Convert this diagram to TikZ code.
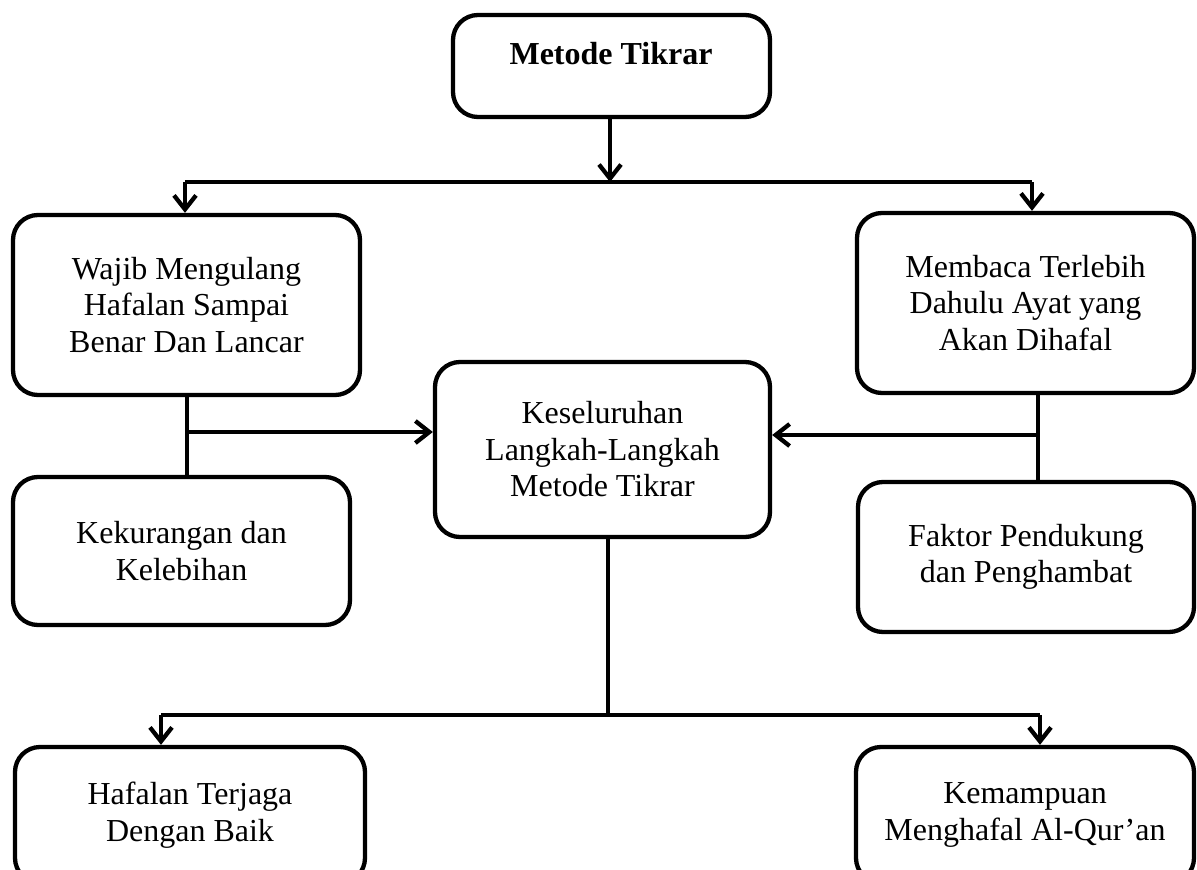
\documentclass[tikz,border=0pt]{standalone}
\usepackage{fontspec}
\setmainfont{Liberation Serif}
\usetikzlibrary{arrows.meta}
\tikzset{
  box/.style={draw=black, line width=4.3pt, rounded corners=25pt, fill=white, align=center,
    font=\fontsize{32}{36.5}\selectfont, inner sep=0pt},
  conn/.style={draw=black, line width=4.3pt},
  arr/.style={conn, -{Straight Barb[length=14pt,width=22pt]}},
}
\begin{document}
\begin{tikzpicture}[x=1pt,y=-1pt]
\clip (0,0) rectangle (1197,870);
\fill[white] (0,0) rectangle (1197,870);
% boxes
\node[box, minimum width=317pt, minimum height=102pt] (top) at (611.5,66) {};
\node[font=\fontsize{32}{36}\selectfont\bfseries] (toptext) at (611,54) {Metode Tikrar};
\node[box, minimum width=347pt, minimum height=180pt] (L1) at (186.5,305) {Wajib Mengulang\\Hafalan Sampai\\Benar Dan Lancar};
\node[box, minimum width=337pt, minimum height=180pt] (R1) at (1025.5,303) {Membaca Terlebih\\Dahulu Ayat yang\\Akan Dihafal};
\node[box, minimum width=335pt, minimum height=175pt] (C) at (602.5,449.5) {Keseluruhan\\Langkah-Langkah\\Metode Tikrar};
\node[box, minimum width=337pt, minimum height=148pt] (L2) at (181.5,551) {Kekurangan dan\\Kelebihan};
\node[box, minimum width=336pt, minimum height=150pt] (R2) at (1026,557) {Faktor Pendukung\\dan Penghambat};
\node[box, minimum width=350pt, minimum height=136pt] (B1) at (190,815) {Hafalan Terjaga\\Dengan Baik};
\node[box, minimum width=338pt, minimum height=136pt] (B2) at (1025,815) {Kemampuan\\Menghafal Al-Qur’an};
% junctions
\coordinate (tj) at (610,182);
\coordinate (tl) at (185,182);
\coordinate (tr) at (1032,182);
\coordinate (lj) at (187,432);
\coordinate (rj) at (1038,435);
\coordinate (bj) at (608,715);
\coordinate (bl) at (161,715);
\coordinate (br) at (1040,715);
% connectors
\draw[arr] (top.south -| tj) -- (tj);
\draw[conn] (tl) -- (tr);
\draw[arr] (tl) -- (tl |- L1.north);
\draw[arr] (tr) -- (tr |- R1.north);
\draw[conn] (L1.south -| lj) -- (L2.north -| lj);
\draw[arr] (lj) -- (C.west |- lj);
\draw[conn] (R1.south -| rj) -- (R2.north -| rj);
\draw[arr] (rj) -- (C.east |- rj);
\draw[conn] (C.south -| bj) -- (bj);
\draw[conn] (bl) -- (br);
\draw[arr] (bl) -- (bl |- B1.north);
\draw[arr] (br) -- (br |- B2.north);
\end{tikzpicture}
\end{document}
